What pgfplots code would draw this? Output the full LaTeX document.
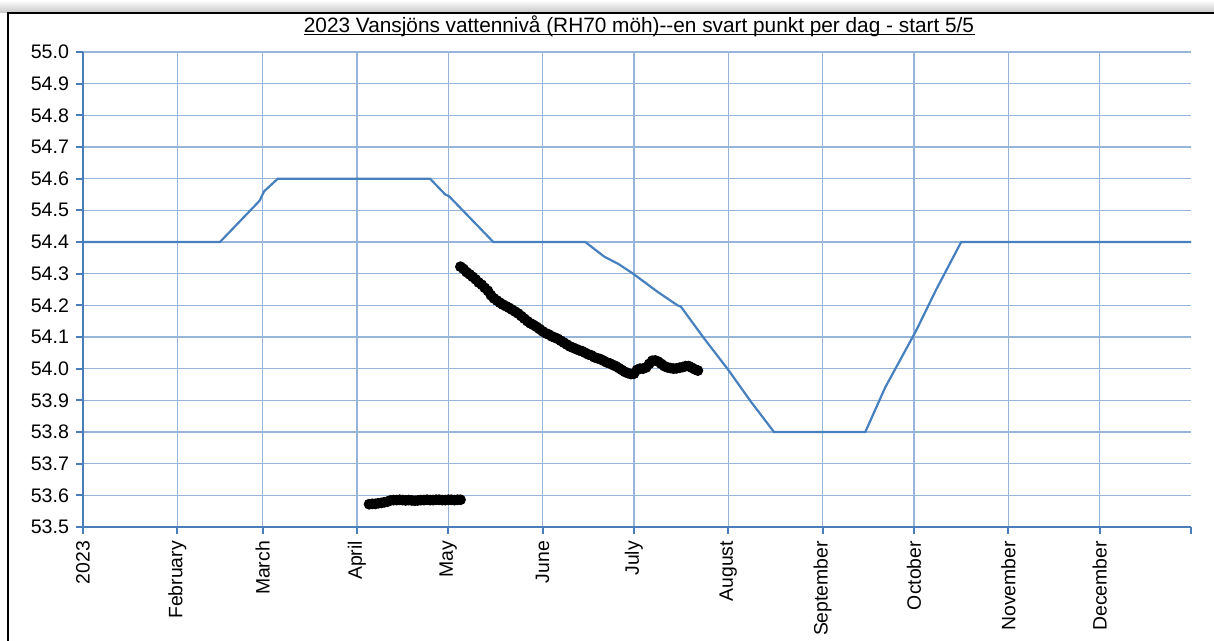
\documentclass[border=0pt]{standalone}
\usepackage{pgfplots}
\pgfplotsset{compat=1.18}
\usepackage{fontspec}
\setmainfont{Liberation Sans}
\definecolor{axblue}{RGB}{74,126,187}
\definecolor{gridblue}{RGB}{150,181,216}
\definecolor{lineblue}{RGB}{70,128,190}
\begin{document}
\begin{tikzpicture}
\useasboundingbox (0,0) rectangle (607pt,320.5pt);
\shade[top color=white, bottom color=black!22] (0,314pt) rectangle (607pt,320.5pt);
\draw[line width=1pt] (4pt,-2pt) -- (4pt,314pt) -- (610pt,314pt);
\begin{axis}[
  at={(41.5pt,57pt)}, anchor=south west,
  scale only axis, width=554pt, height=237.5pt,
  xmin=0, xmax=364, ymin=53.5, ymax=55.0,
  axis lines=left, axis line style={-, axblue, line width=1pt},
  xtick={0,31,59,90,120,151,181,212,243,273,304,334},
  xticklabels={2023,February,March,April,May,June,July,August,September,October,November,December},
  extra x ticks={364}, extra x tick labels={}, extra x tick style={grid=none},
  ytick={53.5,53.6,53.7,53.8,53.9,54.0,54.1,54.2,54.3,54.4,54.5,54.6,54.7,54.8,54.9,55.0},
  grid=major, major grid style={gridblue, line width=0.75pt},
  tick align=outside, major tick length=3.5pt, tick style={axblue, line width=1pt},
  xticklabel style={rotate=90, anchor=east, font=\fontsize{9.7}{11}\selectfont},
  yticklabel style={font=\fontsize{9.8}{11}\selectfont, /pgf/number format/.cd, fixed, fixed zerofill, precision=1},
  /pgf/number format/assume math mode=true,
]
\addplot[lineblue, line width=1.1pt] coordinates {
(0,54.4) (45,54.4) (58,54.53) (59.5,54.56) (64,54.6) (114,54.6) (119,54.55) (120.2,54.545) (134.8,54.4)
(165,54.4) (171.2,54.354) (176,54.33) (181,54.298) (188.7,54.243) (195.3,54.2) (196.4,54.196)
(204,54.096) (212,53.996) (219.4,53.896) (227,53.8) (257,53.8) (263.5,53.94) (273.7,54.12) (280.3,54.25) (288.5,54.4) (364,54.4)
};
\addplot[only marks, mark=*, mark size=2.5pt, black] coordinates {
(94,53.572) (95,53.573) (96,53.573) (97,53.575) (98,53.576) (99,53.578) (100,53.580)
(101,53.584) (102,53.585) (103,53.585) (104,53.586) (105,53.585) (106,53.584) (107,53.585)
(108,53.584) (109,53.583) (110,53.584) (111,53.585) (112,53.585) (113,53.586) (114,53.585)
(115,53.585) (116,53.586) (117,53.586) (118,53.585) (119,53.585) (120,53.586) (121,53.586)
(122,53.585) (123,53.586) (124,53.586)
};
\addplot[only marks, mark=*, mark size=2.5pt, black] coordinates {
(124,54.322) (125,54.315) (126,54.305) (127,54.298) (128,54.290) (129,54.282) (130,54.272)
(131,54.265) (132,54.255) (133,54.246) (134,54.232) (135,54.222) (136,54.215) (137,54.208)
(138,54.202) (139,54.197) (140,54.192) (141,54.186) (142,54.180) (143,54.174) (144,54.166)
(145,54.158) (146,54.150) (147,54.143) (148,54.138) (149,54.132) (150,54.125) (151,54.118)
(152,54.112) (153,54.108) (154,54.102) (155,54.098) (156,54.094) (157,54.088) (158,54.082)
(159,54.076) (160,54.070) (161,54.066) (162,54.062) (163,54.058) (164,54.055) (165,54.050)
(166,54.045) (167,54.042) (168,54.036) (169,54.033) (170,54.030) (171,54.025) (172,54.020)
(173,54.017) (174,54.012) (175,54.008) (176,54.002) (177,53.996) (178,53.990) (179,53.986)
(180,53.983) (181,53.984) (182,53.996) (183,54.000) (184,54.000) (185,54.004) (186,54.015)
(187,54.025) (188,54.026) (189,54.022) (190,54.015) (191,54.008) (192,54.004) (193,54.002)
(194,54.000) (195,54.001) (196,54.003) (197,54.005) (198,54.008) (199,54.008) (200,54.003)
(201,53.998) (202,53.994)
};
\end{axis}
\node[anchor=base, inner sep=0, font=\fontsize{10.4}{12}\selectfont] (t) at (319.5pt,304pt)
  {2023 Vansjöns vattennivå (RH70 möh)-{}-en svart punkt per dag - start 5/5};
\draw[line width=0.5pt] ([yshift=-1pt]t.base west) -- ([yshift=-1pt]t.base east);
\end{tikzpicture}
\end{document}
